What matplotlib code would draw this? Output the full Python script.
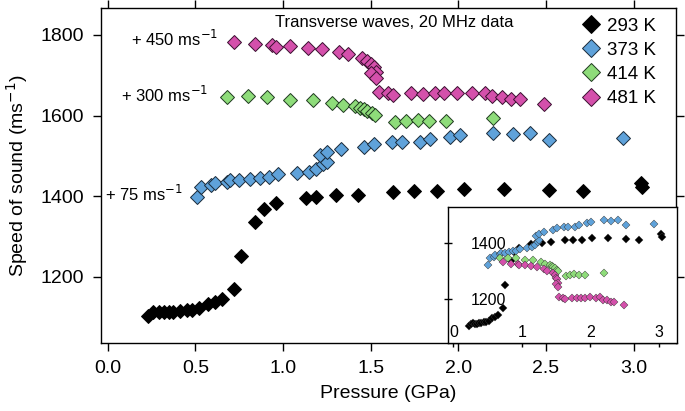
import matplotlib
matplotlib.use('Agg')
import matplotlib.pyplot as plt
import numpy as np

plt.rcParams['font.family'] = ['Liberation Sans', 'DejaVu Sans']

# ---- data (raw measured speeds, m/s) ----
p293 = [0.23, 0.26, 0.29, 0.32, 0.35, 0.37, 0.41, 0.45, 0.48, 0.52, 0.57, 0.61, 0.65, 0.72,
        0.76, 0.84, 0.89, 0.96, 1.13, 1.19, 1.30, 1.43, 1.63, 1.75, 1.88, 2.03, 2.26, 2.52,
        2.71, 3.04, 3.05]
v293 = [1103, 1111, 1113, 1111, 1111, 1113, 1115, 1117, 1117, 1122, 1132, 1136, 1144, 1169,
        1250, 1335, 1368, 1382, 1396, 1397, 1402, 1403, 1410, 1412, 1412, 1418, 1418, 1414,
        1412, 1432, 1422]

p373 = [0.51, 0.53, 0.59, 0.61, 0.68, 0.70, 0.75, 0.81, 0.87, 0.92, 0.97, 1.08, 1.15, 1.19,
        1.23, 1.25, 1.21, 1.25, 1.33, 1.46, 1.52, 1.62, 1.68, 1.78, 1.84, 1.95, 2.01, 2.20,
        2.31, 2.41, 2.52, 2.94]
v373 = [1322, 1347, 1352, 1357, 1360, 1364, 1364, 1368, 1371, 1372, 1379, 1381, 1385, 1393,
        1404, 1410, 1426, 1434, 1441, 1447, 1453, 1459, 1458, 1459, 1466, 1472, 1476, 1482,
        1479, 1482, 1464, 1468]

p414 = [0.68, 0.80, 0.91, 1.04, 1.17, 1.28, 1.34, 1.41, 1.44, 1.46, 1.48, 1.51, 1.525,
        1.64, 1.70, 1.77, 1.835, 1.93, 2.20]
v414 = [1346, 1348, 1346, 1338, 1338, 1332, 1327, 1323, 1319, 1316, 1312, 1305, 1301,
        1284, 1287, 1290, 1287, 1287, 1294]

p481 = [0.72, 0.84, 0.94, 0.96, 1.04, 1.14, 1.22, 1.32, 1.37, 1.45, 1.48, 1.50, 1.52, 1.53,
        1.50, 1.53, 1.55, 1.60, 1.63, 1.73, 1.80, 1.87, 1.92, 1.99, 2.08, 2.15, 2.19, 2.25,
        2.30, 2.35, 2.49]
v481 = [1332, 1327, 1325, 1321, 1323, 1318, 1315, 1308, 1302, 1292, 1285, 1277, 1271, 1259,
        1255, 1242, 1209, 1205, 1201, 1205, 1203, 1205, 1205, 1206, 1205, 1206, 1198, 1195,
        1190, 1190, 1178]

labels = ['293 K', '373 K', '414 K', '481 K']
offsets = [0, 75, 300, 450]
colors = ['#000000', '#5FA2DA', '#8EDC7A', '#D450AB']
edges = ['#000000', '#1a2a3a', '#1f3a1f', '#3a1030']
offset_texts = ['+ 75 ms$^{-1}$', '+ 300 ms$^{-1}$', '+ 450 ms$^{-1}$']

series = [(p293, v293), (p373, v373), (p414, v414), (p481, v481)]

fig = plt.figure(figsize=(6.85, 4.11), dpi=100)
ax = fig.add_axes([101/685, 1 - 343/411, 575/685, 335/411])

handles = []
for (p, v), off, c, ec, lab in zip(series, offsets, colors, edges, labels):
    h, = ax.plot(p, np.array(v) + off, linestyle='none', marker='D', ms=7.1,
                 mfc=c, mec=ec, mew=0.7, label=lab)
    handles.append(h)

ax.set_xlim(-0.038, 3.242)
ax.set_ylim(1035, 1867)
ax.set_xticks([0.0, 0.5, 1.0, 1.5, 2.0, 2.5, 3.0])
ax.set_xticklabels(['0.0', '0.5', '1.0', '1.5', '2.0', '2.5', '3.0'])
ax.set_yticks([1200, 1400, 1600, 1800])
ax.tick_params(axis='both', which='major', direction='out', length=6, width=1,
               labelsize=14, pad=6, top=True, right=True)
for s in ax.spines.values():
    s.set_linewidth(1.0)
ax.set_xlabel('Pressure (GPa)', fontsize=14, labelpad=6)
ax.set_ylabel('Speed of sound (ms$^{-1}$)', fontsize=14, labelpad=8)

ax.text(1.635, 1831, 'Transverse waves, 20 MHz data', fontsize=12, ha='center', va='center')
ax.text(0.63, 1789, offset_texts[2], fontsize=12, ha='right', va='center')
ax.text(0.575, 1651, offset_texts[1], fontsize=12, ha='right', va='center')
ax.text(0.43, 1404, offset_texts[0], fontsize=12, ha='right', va='center')

leg = ax.legend(handles=handles, loc='upper left', bbox_to_anchor=(0.836, 0.972),
                frameon=False, fontsize=13.5, markerscale=1.25, handlelength=1.0,
                handletextpad=0.35, labelspacing=0.38, borderpad=0, borderaxespad=0)

# ---- inset with raw values ----
ins = fig.add_axes([448/685, 1 - 343/411, 229/685, 136/411])
ins.set_facecolor('white')
for (p, v), c, lab in zip(series, colors, labels):
    ins.plot(p, v, linestyle='none', marker='D', ms=3.8, mfc=c, mec='#333333', mew=0.3)
ins.set_xlim(-0.08, 3.27)
ins.set_ylim(1043, 1529)
ins.set_xticks([0, 1, 2, 3])
ins.set_yticks([1200, 1400])
ins.tick_params(axis='y', direction='inout', length=6, width=1, labelsize=11.5, pad=-44.8)
ins.tick_params(axis='x', direction='out', length=3, width=1, labelsize=11.5, pad=-16.0)
for s in ins.spines.values():
    s.set_linewidth(1.0)

fig.savefig('out.png', dpi=100)
